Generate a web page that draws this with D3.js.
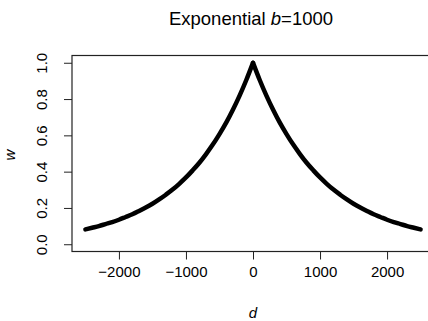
<!DOCTYPE html>
<html>
<head>
<meta charset="utf-8">
<script src="https://cdn.jsdelivr.net/npm/d3@7"></script>
<style>
  body { margin: 0; background: #fff; }
  svg text { font-family: "Liberation Sans", Arial, sans-serif; fill: #000; }
</style>
</head>
<body>
<svg id="chart" width="428" height="321"></svg>
<script>
// distance d and weight w
var dVals = [-2500,-2400,-2300,-2200,-2100,-2000,-1900,-1800,-1700,-1600,-1500,-1400,-1300,-1200,-1100,-1000,-900,-800,-700,-600,-500,-400,-300,-200,-100,
  0,100,200,300,400,500,600,700,800,900,1000,1100,1200,1300,1400,1500,1600,1700,1800,1900,2000,2100,2200,2300,2400,2500];
var wVals = [0.082,0.091,0.100,0.111,0.122,0.135,0.150,0.165,0.183,0.202,0.223,0.247,0.273,0.301,0.333,0.368,0.407,0.449,0.497,0.549,0.607,0.670,0.741,0.819,0.905,
  1.000,0.905,0.819,0.741,0.670,0.607,0.549,0.497,0.449,0.407,0.368,0.333,0.301,0.273,0.247,0.223,0.202,0.183,0.165,0.150,0.135,0.122,0.111,0.100,0.091,0.082];
var xTicks = [-2000, -1000, 0, 1000, 2000];
var yTicks = [0, 0.2, 0.4, 0.6, 0.8, 1.0];

var plotL = 72, plotR = 434, plotT = 55.5, plotB = 251.5;

var svg = d3.select("#chart");

var x = d3.scaleLinear().domain([-2700, 2700]).range([plotL, plotR]);
var y = d3.scaleLinear().domain([-0.04, 1.04]).range([plotB, plotT]);

// title
var title = svg.append("text")
  .attr("x", 251).attr("y", 25)
  .attr("text-anchor", "middle")
  .style("font-size", "18.5px");
title.append("tspan").text("Exponential ");
title.append("tspan").style("font-style", "italic").text("b");
title.append("tspan").text("=1000");

// x axis
var xg = svg.append("g")
  .attr("transform", "translate(0," + plotB + ")")
  .call(d3.axisBottom(x).tickValues(xTicks).tickSize(8).tickPadding(7).tickFormat(d3.format("d")));
xg.select(".domain").remove();
xg.selectAll(".tick line").attr("stroke", "#222");
xg.selectAll(".tick text").style("font-size", "15px").attr("fill", "#000");

// y axis, labels parallel to the axis like R
var yg = svg.append("g")
  .attr("transform", "translate(" + plotL + ",0)")
  .call(d3.axisLeft(y).tickValues(yTicks).tickSize(8).tickFormat(d3.format(".1f")));
yg.select(".domain").remove();
yg.selectAll(".tick line").attr("stroke", "#222");
yg.selectAll(".tick text")
  .attr("x", null).attr("dy", null)
  .attr("text-anchor", "middle")
  .attr("transform", "translate(-25,0) rotate(-90)")
  .attr("fill", "#000")
  .style("font-size", "15px");

// box
svg.append("rect")
  .attr("x", plotL).attr("y", plotT)
  .attr("width", plotR - plotL).attr("height", plotB - plotT)
  .attr("fill", "none").attr("stroke", "#222").attr("stroke-width", 1.2);

// axis titles
svg.append("text")
  .attr("x", 253).attr("y", 318)
  .attr("text-anchor", "middle")
  .style("font-size", "15px").style("font-style", "italic")
  .text("d");
svg.append("text")
  .attr("transform", "translate(15,155) rotate(-90)")
  .attr("text-anchor", "middle")
  .style("font-size", "15px").style("font-style", "italic")
  .text("w");

// curve: two halves so the peak at d=0 stays sharp
var pts = dVals.map(function(d, i) { return [d, wVals[i]]; });
var line = d3.line()
  .curve(d3.curveMonotoneX)
  .x(function(p) { return x(p[0]); })
  .y(function(p) { return y(p[1]); });
var halves = [pts.filter(function(p) { return p[0] <= 0; }), pts.filter(function(p) { return p[0] >= 0; })];
svg.selectAll(".curve")
  .data(halves)
  .enter()
  .append("path")
  .attr("class", "curve")
  .attr("d", line)
  .attr("fill", "none")
  .attr("stroke", "#000")
  .attr("stroke-width", 4.5)
  .attr("stroke-linejoin", "round")
  .attr("stroke-linecap", "round");
</script>
</body>
</html>
